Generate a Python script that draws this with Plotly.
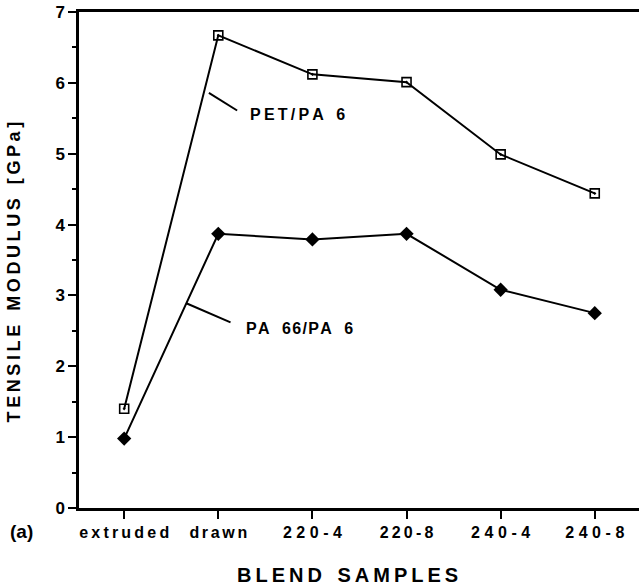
import plotly.graph_objects as go

categories = ["extruded", "drawn", "220-4", "220-8", "240-4", "240-8"]
pet_pa6 = [1.40, 6.67, 6.12, 6.01, 4.99, 4.44]
pa66_pa6 = [0.98, 3.87, 3.79, 3.87, 3.08, 2.75]
y_ticks = [0, 1, 2, 3, 4, 5, 6, 7]

TS = "\u2009"  # thin space used for letter spacing
HS = "\u200a"  # hair space


def spaced(s, sep):
    return sep.join(list(s))


tick_labels = [spaced("extruded", TS), spaced("drawn", HS + HS), spaced("220-4", TS + HS),
               spaced("220-8", TS), spaced("240-4", TS + HS), spaced("240-8", TS + HS)]

xi = list(range(len(categories)))
FONT = "Liberation Sans, Arial, sans-serif"

fig = go.Figure()
fig.add_trace(go.Scatter(
    x=xi, y=pet_pa6, mode="lines+markers", name="PET/PA 6",
    line=dict(color="black", width=2),
    marker=dict(symbol="square-open-dot", size=9, color="black", line=dict(width=1.6, color="black")),
))
fig.add_trace(go.Scatter(
    x=xi, y=pa66_pa6, mode="lines+markers", name="PA 66/PA 6",
    line=dict(color="black", width=2),
    marker=dict(symbol="diamond", size=11, color="black"),
))

fig.update_layout(
    width=639, height=586,
    margin=dict(l=79, r=0, t=12, b=78),
    plot_bgcolor="white", paper_bgcolor="white",
    showlegend=False,
    font=dict(family=FONT, color="black"),
)
fig.update_xaxes(
    range=[-0.48, 5.47], tickvals=xi, ticktext=tick_labels,
    showgrid=False, zeroline=False,
    showline=True, linecolor="black", linewidth=2.5, mirror=True,
    ticks="outside", ticklen=8, tickwidth=2, tickcolor="black",
    tickfont=dict(size=16, family=FONT, weight="bold"),
)
fig.update_yaxes(
    range=[0, 7], tickvals=y_ticks,
    showgrid=False, zeroline=False,
    showline=True, linecolor="black", linewidth=2.5,
    ticks="outside", ticklen=8, tickwidth=2, tickcolor="black",
    tickfont=dict(size=17, family=FONT, weight="bold"),
    ticklabeloverflow="allow",
    minor=dict(dtick=0.5, ticks="outside", ticklen=4, tickwidth=2, tickcolor="black", showgrid=False),
)

# leader lines + labels
fig.add_shape(type="line", x0=0.90, y0=5.86, x1=1.20, y1=5.61, line=dict(color="black", width=2))
fig.add_shape(type="line", x0=0.66, y0=2.89, x1=1.13, y1=2.62, line=dict(color="black", width=2))
fig.add_annotation(x=1.32, y=5.55, text=spaced("PET/PA", TS) + "\u2002 6", showarrow=False, xanchor="left",
                   font=dict(size=16, family=FONT, weight="bold"))
fig.add_annotation(x=1.27, y=2.54, text=spaced("PA", HS) + "\u2002 " + spaced("66/PA", HS) + "\u2002 6",
                   showarrow=False, xanchor="left",
                   font=dict(size=16, family=FONT, weight="bold"))

# axis titles
fig.add_annotation(xref="paper", yref="paper", x=-0.116, y=0.475,
                   text=spaced("TENSILE", TS) + "\u2002 " + spaced("MODULUS", TS) + "\u2002 " + spaced("[GPa]", TS),
                   textangle=-90, showarrow=False, xanchor="center", yanchor="middle",
                   font=dict(size=18, family=FONT, weight="bold"))
fig.add_annotation(xref="paper", yref="paper", x=0.48, y=-0.135,
                   text=spaced("BLEND", TS) + "\u2002 " + spaced("SAMPLES", TS),
                   showarrow=False, xanchor="center", yanchor="middle",
                   font=dict(size=20, family=FONT, weight="bold"))
fig.add_annotation(xref="paper", yref="paper", x=-0.102, y=-0.048, text="(a)",
                   showarrow=False, xanchor="center", yanchor="middle",
                   font=dict(size=19, family=FONT, weight="bold"))

fig.write_html("out.html", config={"displayModeBar": False},
               post_script="document.body.style.margin='0px';")
